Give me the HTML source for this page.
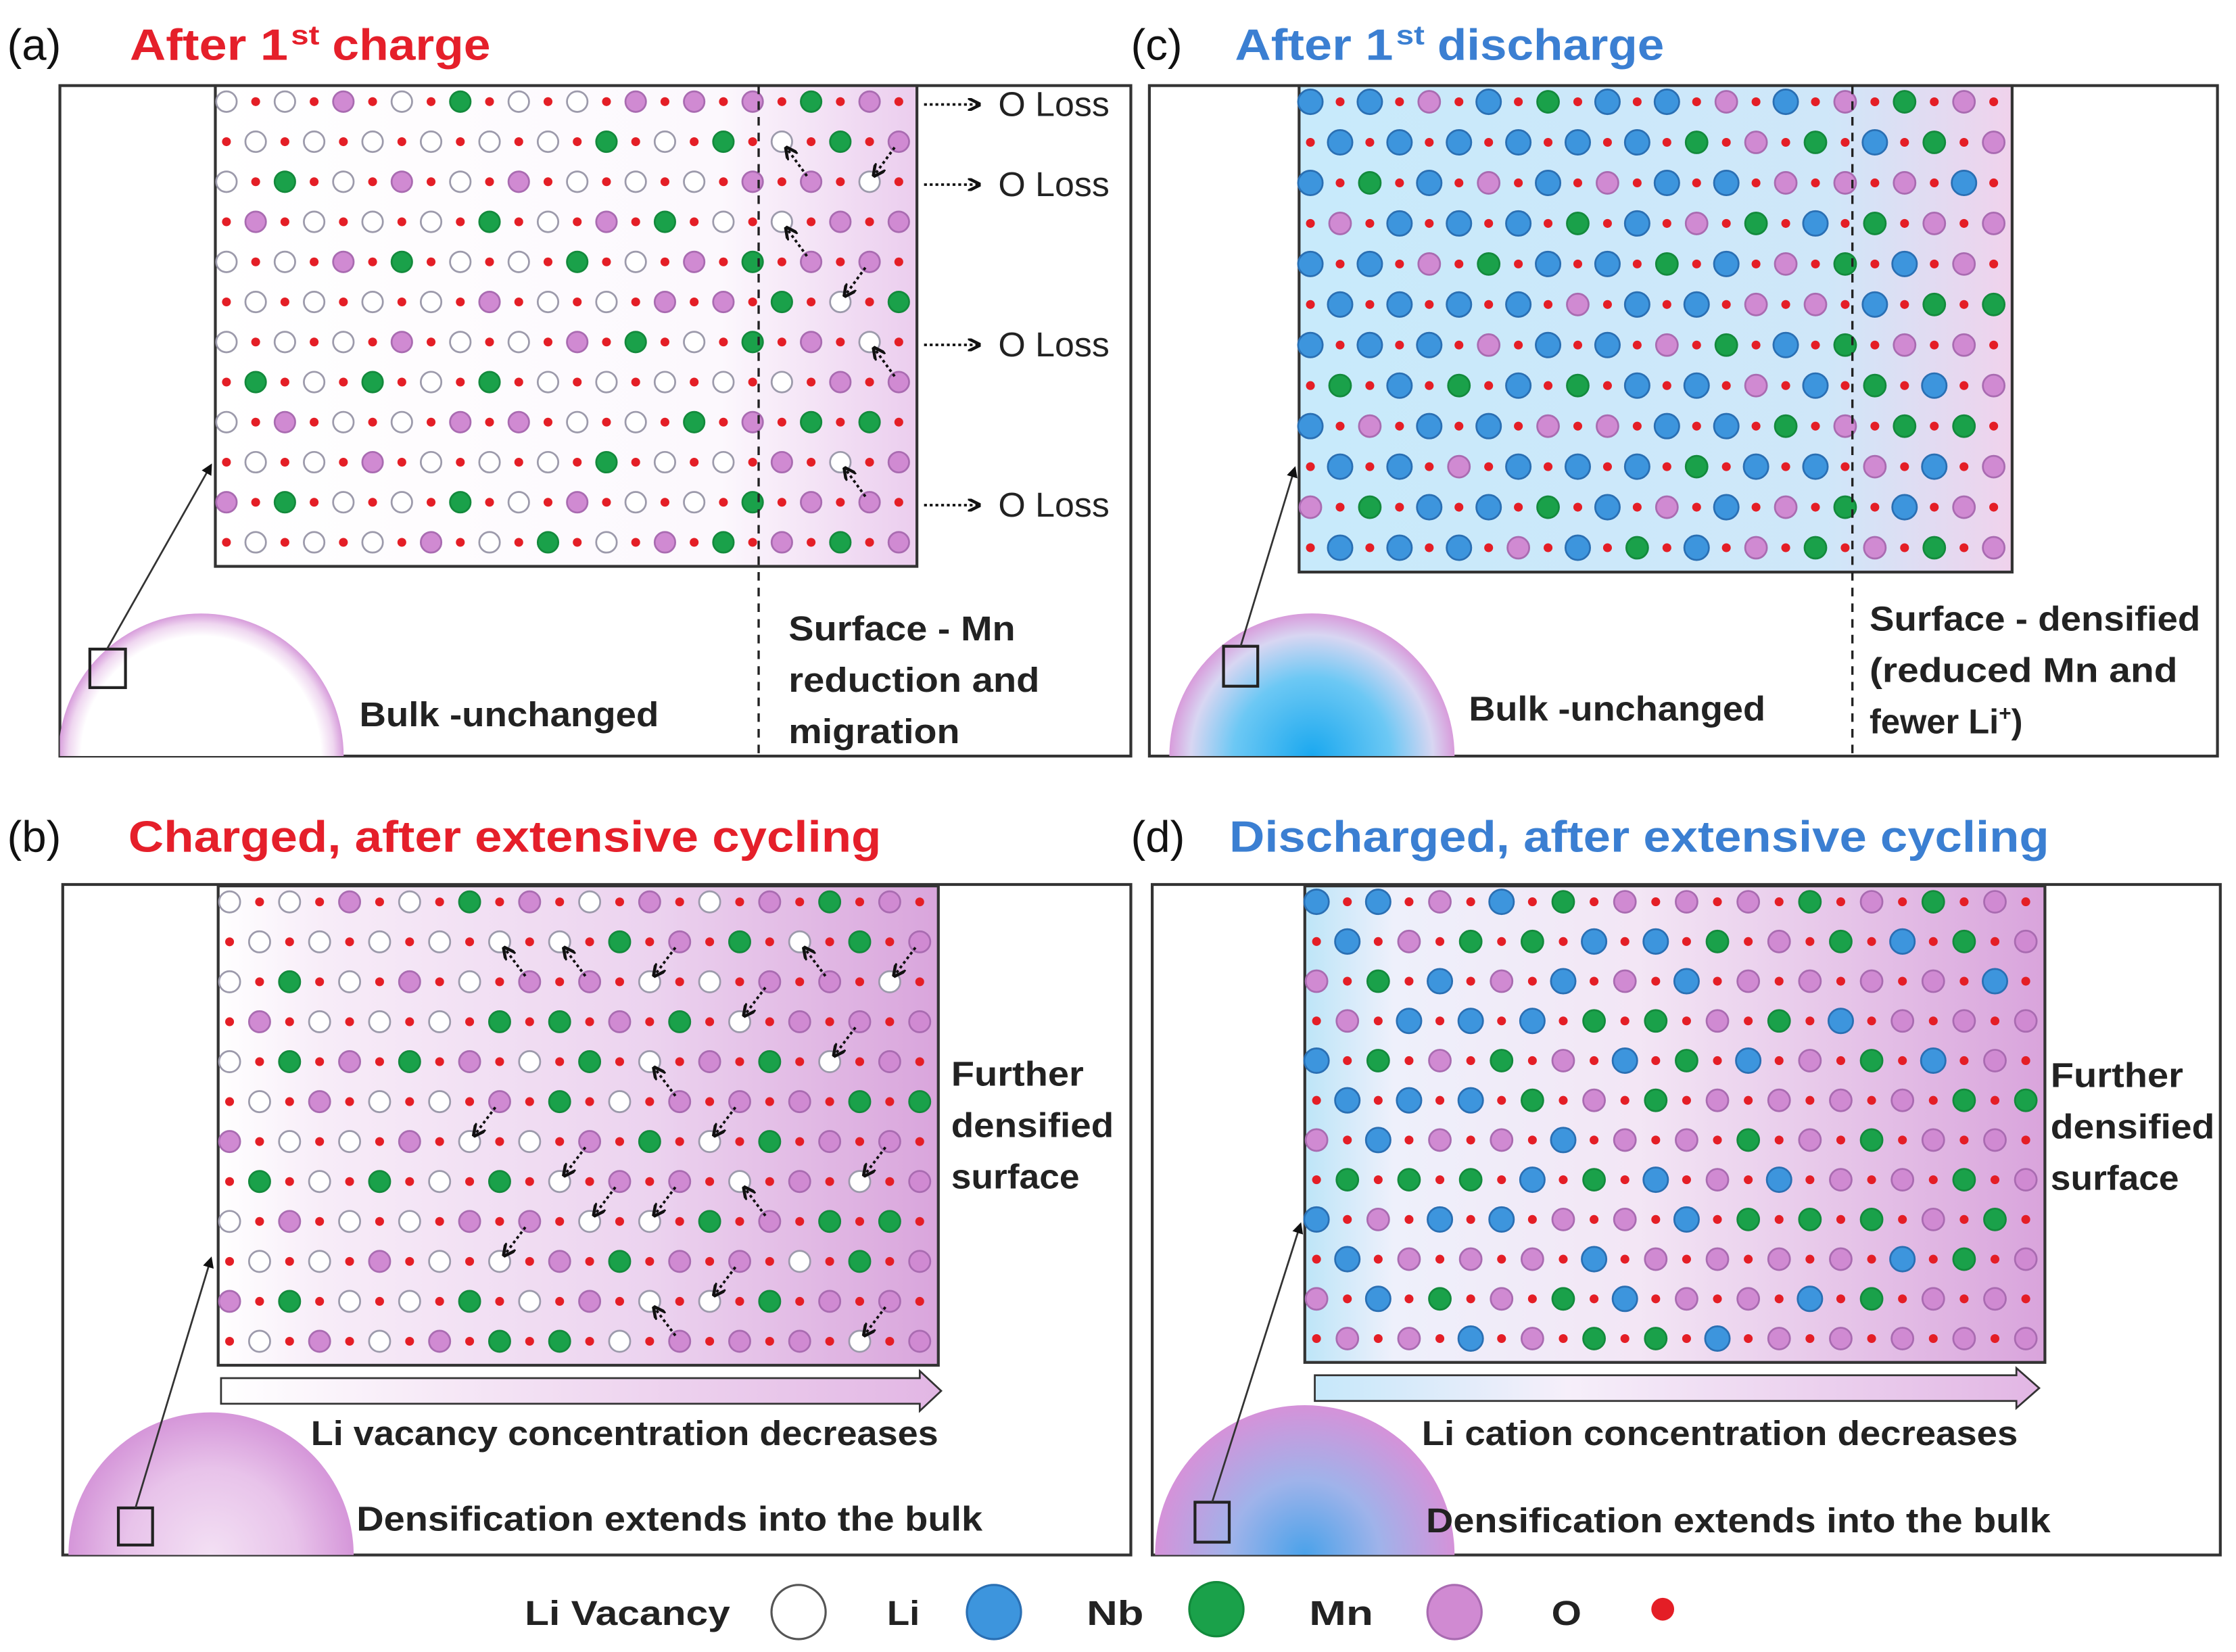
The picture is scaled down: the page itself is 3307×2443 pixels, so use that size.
<!DOCTYPE html>
<html><head><meta charset="utf-8"><title>Li-rich cathode surface densification schematic</title>
<style>
html,body{margin:0;padding:0;background:#fff;}
svg{display:block;}
.lab{font-family:"Liberation Sans",sans-serif;font-size:31px;fill:#111;}
.ttl{font-family:"Liberation Sans",sans-serif;font-size:31px;font-weight:bold;}
.sup{font-family:"Liberation Sans",sans-serif;font-size:19px;font-weight:bold;}
.txt{font-family:"Liberation Sans",sans-serif;font-size:24px;font-weight:bold;fill:#222;}
.oloss{font-family:"Liberation Sans",sans-serif;font-size:24px;fill:#222;}
</style></head>
<body>
<svg id="fig" width="3307" height="2443" viewBox="0 0 1568 1158" preserveAspectRatio="none" xmlns="http://www.w3.org/2000/svg">
<defs>
<linearGradient id="gA" x1="0" x2="1" y1="0" y2="0"><stop offset="0" stop-color="#ffffff"/><stop offset="0.72" stop-color="#fcf8fd"/><stop offset="1" stop-color="#ebcdee"/></linearGradient>
<linearGradient id="gC" x1="0" x2="1" y1="0" y2="0"><stop offset="0" stop-color="#c8eafb"/><stop offset="0.74" stop-color="#cfe7f9"/><stop offset="1" stop-color="#f0d2ec"/></linearGradient>
<linearGradient id="gB" x1="0" x2="1" y1="0" y2="0"><stop offset="0" stop-color="#ffffff"/><stop offset="0.15" stop-color="#f7ecf8"/><stop offset="0.6" stop-color="#ecd3ef"/><stop offset="1" stop-color="#d9a5dc"/></linearGradient>
<linearGradient id="gD" x1="0" x2="1" y1="0" y2="0"><stop offset="0" stop-color="#bde5f8"/><stop offset="0.12" stop-color="#eef0fb"/><stop offset="0.45" stop-color="#f3e6f5"/><stop offset="1" stop-color="#d9a4dc"/></linearGradient>
<linearGradient id="arrB" x1="0" x2="1"><stop offset="0" stop-color="#ffffff"/><stop offset="1" stop-color="#e2b6e4"/></linearGradient>
<linearGradient id="arrD" x1="0" x2="1"><stop offset="0" stop-color="#c6e8fa"/><stop offset="0.35" stop-color="#f6effa"/><stop offset="1" stop-color="#e2b6e4"/></linearGradient>
<radialGradient id="dA" gradientUnits="userSpaceOnUse" cx="141" cy="530" r="100"><stop offset="0.84" stop-color="#ffffff"/><stop offset="0.93" stop-color="#efd7f0"/><stop offset="1" stop-color="#d79cdb"/></radialGradient>
<radialGradient id="dB" gradientUnits="userSpaceOnUse" cx="148" cy="1090" r="100"><stop offset="0" stop-color="#f3e0f4"/><stop offset="0.6" stop-color="#e8c3ea"/><stop offset="1" stop-color="#d596d9"/></radialGradient>
<radialGradient id="dC" gradientUnits="userSpaceOnUse" cx="920" cy="530" r="100"><stop offset="0" stop-color="#1aa8ef"/><stop offset="0.55" stop-color="#6cc8f4"/><stop offset="0.85" stop-color="#d8d6f2"/><stop offset="1" stop-color="#d89cdb"/></radialGradient>
<radialGradient id="dD" gradientUnits="userSpaceOnUse" cx="915" cy="1090" r="105"><stop offset="0" stop-color="#4aa2ea"/><stop offset="0.5" stop-color="#9fb3ea"/><stop offset="1" stop-color="#d592d9"/></radialGradient>
<marker id="ah" markerWidth="6" markerHeight="6" refX="5" refY="3" orient="auto" markerUnits="strokeWidth"><path d="M0,0 L6,3 L0,6 Z" fill="#111"/></marker>
<marker id="ah2" markerWidth="5" markerHeight="5" refX="4" refY="2.5" orient="auto" markerUnits="strokeWidth"><path d="M0,0 L5,2.5 L0,5" fill="none" stroke="#111" stroke-width="1.2"/></marker>
<clipPath id="cA"><rect x="42" y="60" width="751" height="470"/></clipPath>
<clipPath id="cC"><rect x="806" y="60" width="749" height="470"/></clipPath>
<clipPath id="cB"><rect x="44" y="620" width="749" height="470"/></clipPath>
<clipPath id="cD"><rect x="808" y="620" width="749" height="470"/></clipPath>
</defs>

<!-- headings -->
<text class="lab" x="5" y="42">(a)</text>
<g fill="#e51f2a">
<text class="ttl" x="91" y="42" textLength="111" lengthAdjust="spacingAndGlyphs">After 1</text>
<text class="sup" x="204" y="31" textLength="20" lengthAdjust="spacingAndGlyphs">st</text>
<text class="ttl" x="233" y="42" textLength="111" lengthAdjust="spacingAndGlyphs">charge</text>
</g>
<text class="lab" x="793" y="42">(c)</text>
<g fill="#3b7fd2">
<text class="ttl" x="866" y="42" textLength="111" lengthAdjust="spacingAndGlyphs">After 1</text>
<text class="sup" x="979" y="31" textLength="20" lengthAdjust="spacingAndGlyphs">st</text>
<text class="ttl" x="1008" y="42" textLength="159" lengthAdjust="spacingAndGlyphs">discharge</text>
</g>
<text class="lab" x="5" y="597">(b)</text>
<text class="ttl" x="90" y="597" fill="#e51f2a" textLength="528" lengthAdjust="spacingAndGlyphs">Charged, after extensive cycling</text>
<text class="lab" x="793" y="597">(d)</text>
<text class="ttl" x="862" y="597" fill="#3b7fd2" textLength="575" lengthAdjust="spacingAndGlyphs">Discharged, after extensive cycling</text>

<!-- panel A -->
<g>
<rect x="42" y="60" width="751" height="470" fill="#fff" stroke="#333" stroke-width="2"/>
<path d="M41,530 A100,100 0 0 1 241,530 Z" fill="url(#dA)" clip-path="url(#cA)"/>
<rect x="151" y="60" width="492" height="337" fill="url(#gA)" stroke="#333" stroke-width="2"/>
<g id="latA"></g>
<line x1="532" y1="60" x2="532" y2="530" stroke="#222" stroke-width="1.6" stroke-dasharray="6,5"/>
<rect x="63" y="455" width="25" height="27" fill="none" stroke="#222" stroke-width="2"/>
<line x1="75" y1="455" x2="148" y2="326" stroke="#333" stroke-width="1.3" marker-end="url(#ah)"/>
<text class="txt" x="252" y="509" textLength="210" lengthAdjust="spacingAndGlyphs">Bulk -unchanged</text>
<text class="txt" x="553" y="449" textLength="159" lengthAdjust="spacingAndGlyphs">Surface - Mn</text>
<text class="txt" x="553" y="485" textLength="176" lengthAdjust="spacingAndGlyphs">reduction and</text>
<text class="txt" x="553" y="521" textLength="120" lengthAdjust="spacingAndGlyphs">migration</text>
<g id="olossG"></g>
</g>

<!-- panel C -->
<g>
<rect x="806" y="60" width="749" height="470" fill="#fff" stroke="#333" stroke-width="2"/>
<path d="M820,530 A100,100 0 0 1 1020,530 Z" fill="url(#dC)" clip-path="url(#cC)"/>
<rect x="911" y="60" width="500" height="341" fill="url(#gC)" stroke="#333" stroke-width="2"/>
<g id="latC"></g>
<line x1="1299" y1="60" x2="1299" y2="530" stroke="#222" stroke-width="1.6" stroke-dasharray="6,5"/>
<rect x="858" y="453" width="24" height="28" fill="none" stroke="#222" stroke-width="2"/>
<line x1="870" y1="453" x2="908" y2="328" stroke="#333" stroke-width="1.3" marker-end="url(#ah)"/>
<text class="txt" x="1030" y="505" textLength="208" lengthAdjust="spacingAndGlyphs">Bulk -unchanged</text>
<text class="txt" x="1311" y="442" textLength="232" lengthAdjust="spacingAndGlyphs">Surface - densified</text>
<text class="txt" x="1311" y="478" textLength="216" lengthAdjust="spacingAndGlyphs">(reduced Mn and</text>
<text class="txt" x="1311" y="514">fewer Li<tspan font-size="15" dy="-9">+</tspan><tspan dy="9">)</tspan></text>
</g>

<!-- panel B -->
<g>
<rect x="44" y="620" width="749" height="470" fill="#fff" stroke="#333" stroke-width="2"/>
<path d="M48,1090 A100,100 0 0 1 248,1090 Z" fill="url(#dB)" clip-path="url(#cB)"/>
<rect x="153" y="621" width="505" height="336" fill="url(#gB)" stroke="#333" stroke-width="2"/>
<g id="latB"></g>
<path d="M155,966 L645,966 L645,961 L660,975 L645,989 L645,984 L155,984 Z" fill="url(#arrB)" stroke="#333" stroke-width="1.3"/>
<text class="txt" x="218" y="1013" textLength="440" lengthAdjust="spacingAndGlyphs">Li vacancy concentration decreases</text>
<rect x="83" y="1057" width="24" height="26" fill="none" stroke="#222" stroke-width="2"/>
<line x1="95" y1="1057" x2="148" y2="882" stroke="#333" stroke-width="1.3" marker-end="url(#ah)"/>
<text class="txt" x="250" y="1073" textLength="439" lengthAdjust="spacingAndGlyphs">Densification extends into the bulk</text>
<text class="txt" x="667" y="761" textLength="93" lengthAdjust="spacingAndGlyphs">Further</text>
<text class="txt" x="667" y="797" textLength="114" lengthAdjust="spacingAndGlyphs">densified</text>
<text class="txt" x="667" y="833" textLength="90" lengthAdjust="spacingAndGlyphs">surface</text>
</g>

<!-- panel D -->
<g>
<rect x="808" y="620" width="749" height="470" fill="#fff" stroke="#333" stroke-width="2"/>
<path d="M810,1090 A105,105 0 0 1 1020,1090 Z" fill="url(#dD)" clip-path="url(#cD)"/>
<rect x="915" y="621" width="519" height="334" fill="url(#gD)" stroke="#333" stroke-width="2"/>
<g id="latD"></g>
<path d="M922,964 L1414,964 L1414,959 L1430,973 L1414,987 L1414,982 L922,982 Z" fill="url(#arrD)" stroke="#333" stroke-width="1.3"/>
<text class="txt" x="997" y="1013" textLength="418" lengthAdjust="spacingAndGlyphs">Li cation concentration decreases</text>
<rect x="838" y="1053" width="24" height="28" fill="none" stroke="#222" stroke-width="2"/>
<line x1="850" y1="1053" x2="912" y2="858" stroke="#333" stroke-width="1.3" marker-end="url(#ah)"/>
<text class="txt" x="1000" y="1074" textLength="438" lengthAdjust="spacingAndGlyphs">Densification extends into the bulk</text>
<text class="txt" x="1438" y="762" textLength="93" lengthAdjust="spacingAndGlyphs">Further</text>
<text class="txt" x="1438" y="798" textLength="115" lengthAdjust="spacingAndGlyphs">densified</text>
<text class="txt" x="1438" y="834" textLength="90" lengthAdjust="spacingAndGlyphs">surface</text>
</g>

<!-- legend -->
<g>
<text class="txt" x="368" y="1139" font-size="26" textLength="144" lengthAdjust="spacingAndGlyphs">Li Vacancy</text>
<circle cx="560" cy="1130" r="19" fill="#fff" stroke="#555" stroke-width="1.5"/>
<text class="txt" x="622" y="1139" font-size="26" textLength="23" lengthAdjust="spacingAndGlyphs">Li</text>
<circle cx="697" cy="1130" r="19" fill="#3d95dd" stroke="#2a6fb3" stroke-width="1.5"/>
<text class="txt" x="762" y="1139" font-size="26" textLength="40" lengthAdjust="spacingAndGlyphs">Nb</text>
<circle cx="853" cy="1128" r="19" fill="#1aa14a" stroke="#138a3c" stroke-width="1.5"/>
<text class="txt" x="918" y="1139" font-size="26" textLength="45" lengthAdjust="spacingAndGlyphs">Mn</text>
<circle cx="1020" cy="1130" r="19" fill="#d08ad2" stroke="#a96bb1" stroke-width="1.5"/>
<text class="txt" x="1088" y="1139" font-size="26" textLength="21" lengthAdjust="spacingAndGlyphs">O</text>
<circle cx="1166" cy="1128" r="8" fill="#e41e26"/>
</g>
</svg>
<script>
// Site occupancy per row: V=Li vacancy, L=Li, N=Nb, M=Mn (12 cation sites per row)
const rowsA = ["VVMVNVVMMMNM","VVVVVVNVNVNM","VNVMVMVVVMMV","MVVVNVMNVVMM","VVMNVVNVMNMM","VVVVMVVMMNVN","VVVMVVMNVNMV","NVNVNVVVVVMM","VMVVMMVVNMNN","VVMVVVNVVMVM","MNVVNVMVVNMM","VVVMVNVMNMNM"];
const rowsC = ["LLMLNLLMLMNM","LLLLLLNMNLNM","LNLMLMLLMMML","MLLLNLMNLNMM","LLMNLLNLMNLM","LLLLMLLMMLNN","LLLMLLMNLNMM","NLNLNLLMLNLM","LMLLMMLLNMNN","LLMLLLNLLMLM","MNLLNLMLMNLM","LLLMLNLMNMNM"];
const rowsB = ["VVMVNMVMVMNM","VVVVVVNMNVNM","VNVMVMMVVMMV","MVVVNNMNVMMM","VNMNMVNVMNVM","VMVVMNVMMMNN","MVVMVVMNVNMM","NVNVNVMMVMVM","VMVVMMVVNMNN","VVMVVMNMMVNM","MNVVNVMVVNMM","VMVMNNVMMMVM"];
const rowsD = ["LLMLNMMMNMNM","LMNNLLNMNLNM","MNLMLMLMMMML","MLLLNNMNLMMM","LNMNMLNLMNLM","LLLNMNMMMMNN","MLMMLMMNMNMM","NNNLNLMLMMNM","LMLLMMLNNNMN","LMMMLMMMMLNM","MLNMNLMMLNMM","MMLMNNLMMMMM"];
// migration arrows: [fromRow, fromPos, toRow, toPos]
const arrowsA = [[2,20,1,19],[1,23,2,22],[4,20,3,19],[4,22,5,21],[7,23,6,22],[10,22,9,21]];
const arrowsB = [[2,10,1,9],[2,12,1,11],[1,15,2,14],[2,20,1,19],[1,23,2,22],[2,18,3,17],[3,21,4,20],[5,15,4,14],[5,9,6,8],[5,17,6,16],[6,12,7,11],[6,22,7,21],[7,13,8,12],[7,15,8,14],[8,18,7,17],[8,10,9,9],[9,17,10,16],[11,15,10,14],[10,22,11,21]];
const oLossRows = [0,2,6,10];

const NS = "http://www.w3.org/2000/svg";
const STY = {V:["#ffffff","#9c9aab"],L:["#3d95dd","#2a6fb3"],N:["#1aa14a","#138a3c"],M:["#d08ad2","#a96bb1"]};
function mk(tag, attrs, parent){ const e=document.createElementNS(NS,tag); for(const k in attrs) e.setAttribute(k,attrs[k]); parent.appendChild(e); return e; }
function lattice(id, rows, x0, x1, y0, y1, rad){
  const g=document.getElementById(id);
  const nR=rows.length, nP=24;
  const dx=(x1-x0)/nP, dy=(y1-y0)/nR;
  const X=p=>x0+dx*(p+0.38), Y=r=>y0+dy*(r+0.4);
  rows.forEach((row,r)=>{
    for(let p=0;p<nP;p++){
      if((p+r)%2===0){
        const s=row[Math.floor(p/2)], st=STY[s];
        const c=mk("circle",{cx:X(p),cy:Y(r),r:(s==="L"?rad+1:rad),fill:st[0],stroke:st[1],"stroke-width":1.3},g);
        
        
      } else {
        const c=mk("circle",{cx:X(p),cy:Y(r),r:3.1,fill:"#e41e26"},g);
        
        
      }
    }
  });
  return {X,Y};
}
function arrows(id, list, ax){
  const g=document.getElementById(id);
  list.forEach(a=>{
    const xa=ax.X(a[1]), ya=ax.Y(a[0]), xb=ax.X(a[3]), yb=ax.Y(a[2]);
    const vx=xb-xa, vy=yb-ya, L=Math.hypot(vx,vy);
    const l=mk("line",{x1:xa+vx/L*5,y1:ya+vy/L*5,x2:xb-vx/L*6,y2:yb-vy/L*6,stroke:"#111","stroke-width":1.8,"stroke-dasharray":"2,2","marker-end":"url(#ah2)"},g);
    
    
  });
}
const axA=lattice("latA",rowsA,151,643,60,397,7.2);
lattice("latC",rowsC,911,1411,60,401,7.6);
const axB=lattice("latB",rowsB,153,658,621,957,7.4);
lattice("latD",rowsD,915,1434,621,955,7.6);
arrows("latA",arrowsA,axA);
arrows("latB",arrowsB,axB);
const og=document.getElementById("olossG");
oLossRows.forEach(r=>{
  const y=axA.Y(r)+2;
  const l=mk("line",{x1:648,y1:y,x2:686,y2:y,stroke:"#111","stroke-width":1.8,"stroke-dasharray":"2,2","marker-end":"url(#ah2)"},og);
  
  
  const t=mk("text",{x:700,y:y+8,class:"oloss",textLength:78,lengthAdjust:"spacingAndGlyphs"},og);
  t.textContent="O Loss";
  
  
});
</script>
</body></html>
